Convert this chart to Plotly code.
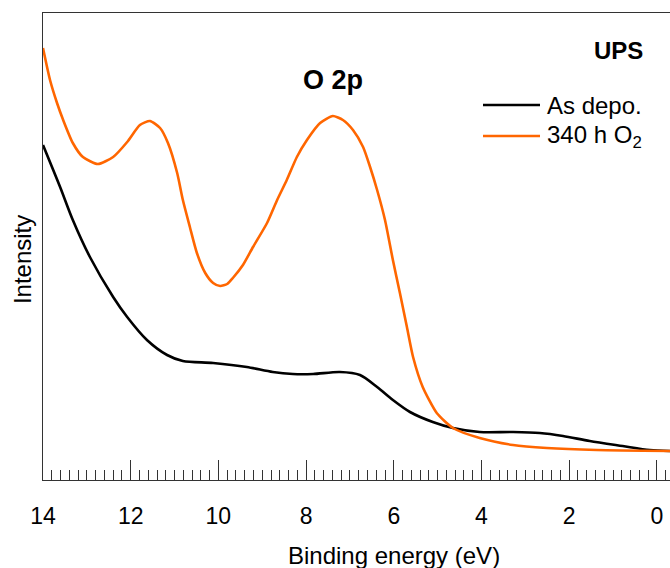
import plotly.graph_objects as go

# Binding energy (eV) and intensity (arb. units)
energy_as_depo = [14.00, 13.61, 13.32, 12.93, 12.40, 12.08, 11.63, 11.17, 10.81, 10.12,
                  9.35, 8.76, 8.30, 7.84, 7.23, 6.77, 6.38, 6.02, 5.63, 5.11,
                  4.65, 4.04, 3.28, 2.67, 2.14, 1.53, 0.78, 0.16, -0.30]
intensity_as_depo = [335, 293, 260, 223, 183, 163, 140, 125, 119, 117,
                     113, 108, 106, 106, 108, 105, 93, 80, 68, 58,
                     52, 48, 48, 47, 44, 39, 34, 30, 29]

energy_o2 = [14.00, 13.84, 13.68, 13.54, 13.32, 13.09, 12.75, 12.40, 12.08, 11.79,
             11.56, 11.33, 11.15, 10.94, 10.81, 10.65, 10.49, 10.30, 10.12,
             9.96, 9.80, 9.67, 9.44, 9.21, 8.89, 8.66, 8.44, 8.21, 7.98,
             7.68, 7.39, 7.16, 6.93, 6.70, 6.54, 6.38, 6.20, 6.02, 5.86,
             5.70, 5.56, 5.34, 5.02, 4.65, 4.04, 3.28, 2.51, 1.37, -0.30]
intensity_o2 = [432, 400, 377, 360, 337, 323, 316, 323, 338, 355,
                359, 352, 337, 307, 280, 253, 227, 207, 197,
                194, 196, 202, 215, 233, 257, 280, 300, 323, 340,
                357, 364, 360, 350, 333, 313, 290, 260, 220, 187,
                153, 123, 93, 67, 52, 42, 35, 32, 30, 29]

series_names = ["As depo.", "340 h O<sub>2</sub>"]
series_colors = ["#000000", "#FF6600"]
x_tick_vals = [14, 12, 10, 8, 6, 4, 2, 0]

FONT = "Liberation Sans, Arial, sans-serif"
AX = "#333333"

fig = go.Figure()
fig.add_trace(go.Scatter(x=energy_as_depo, y=intensity_as_depo, mode="lines",
                         line=dict(color=series_colors[0], width=2.6, shape="spline", smoothing=0.8),
                         name=series_names[0], showlegend=False))
fig.add_trace(go.Scatter(x=energy_o2, y=intensity_o2, mode="lines",
                         line=dict(color=series_colors[1], width=2.6, shape="spline", smoothing=0.6),
                         name=series_names[1], showlegend=False))

fig.update_layout(
    width=670, height=568,
    margin=dict(l=43, r=0, t=13, b=88),
    paper_bgcolor="white", plot_bgcolor="white",
    font=dict(family=FONT, size=24, color="#000000"),
    xaxis=dict(range=[14, -0.30], tickmode="array", tickvals=x_tick_vals,
               ticktext=[str(v) for v in x_tick_vals],
               ticks="inside", ticklen=20, tickwidth=1, tickcolor=AX,
               minor=dict(dtick=0.2, tick0=0, ticks="inside", ticklen=10, tickwidth=1, tickcolor=AX),
               showline=True, linecolor=AX, linewidth=1.2, mirror=True,
               showgrid=False, zeroline=False, ticklabelstandoff=15,
               tickfont=dict(size=23, family=FONT)),
    yaxis=dict(range=[0, 467], showticklabels=False, ticks="",
               showline=True, linecolor=AX, linewidth=1.2, mirror=False,
               showgrid=False, zeroline=False),
)

# axis titles
fig.add_annotation(text="Binding energy (eV)", xref="paper", yref="paper",
                   x=0.56, y=-0.1606, showarrow=False, xanchor="center", yanchor="middle",
                   font=dict(size=24, family=FONT))
fig.add_annotation(text="Intensity", xref="paper", yref="paper", textangle=-90,
                   x=-0.0335, y=0.473, showarrow=False, xanchor="center", yanchor="middle",
                   font=dict(size=24, family=FONT))

# labels
fig.add_annotation(text="<b>O 2p</b>", xref="x", yref="paper", x=7.39, y=(480 - 80) / 467,
                   showarrow=False, xanchor="center", yanchor="middle",
                   font=dict(size=27, family=FONT))
fig.add_annotation(text="<b>UPS</b>", xref="paper", yref="paper", x=(645 - 43) / 627, y=(480 - 50) / 467,
                   showarrow=False, xanchor="right", yanchor="middle",
                   font=dict(size=24, family=FONT))

# legend
leg_y = [105, 136]
for name, color, py in zip(series_names, series_colors, leg_y):
    yp = (480 - py) / 467
    fig.add_shape(type="line", xref="paper", yref="paper",
                  x0=(483 - 43) / 627, x1=(540 - 43) / 627, y0=yp, y1=yp,
                  line=dict(color=color, width=2.6))
    fig.add_annotation(text=name, xref="paper", yref="paper", x=(545 - 43) / 627, y=yp,
                       showarrow=False, xanchor="left", yanchor="middle",
                       font=dict(size=24, family=FONT))

fig.write_html("out.html", config={"displayModeBar": False},
               post_script="document.body.style.margin='0';")
